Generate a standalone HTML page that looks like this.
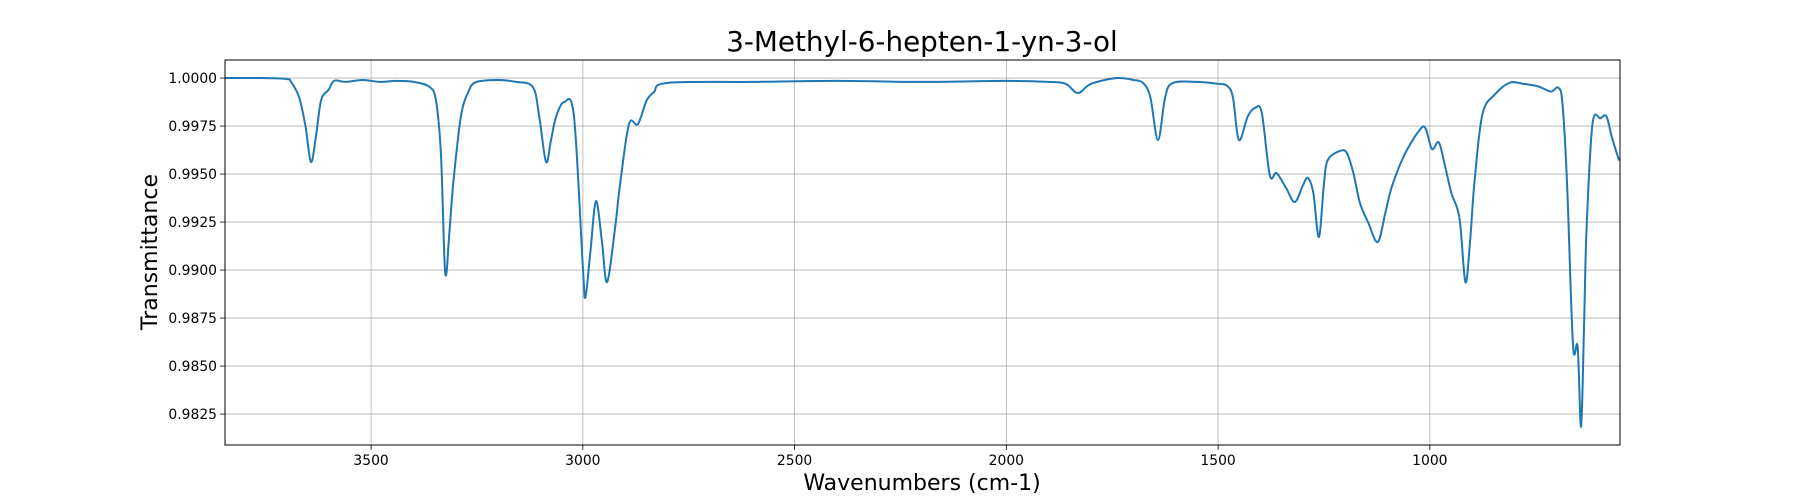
<!DOCTYPE html>
<html><head><meta charset="utf-8"><style>
body{margin:0;background:#fff;}
svg{display:block;font-family:"DejaVu Sans","Liberation Sans",sans-serif;}
</style></head><body>
<svg id="chart" width="1800" height="500" xmlns="http://www.w3.org/2000/svg">
<rect x="0" y="0" width="1800" height="500" fill="#fff"/>
<g id="grid"></g>
<g id="series"></g>
<rect x="225" y="60" width="1395" height="385" fill="none" stroke="#000" stroke-width="1"/>
<g id="xticks"></g>
<g id="yticks"></g>
<text x="922" y="51" font-size="27.8" text-anchor="middle">3-Methyl-6-hepten-1-yn-3-ol</text>
<text x="922" y="490" font-size="22" text-anchor="middle">Wavenumbers (cm-1)</text>
<text x="0" y="0" font-size="22" text-anchor="middle" transform="translate(157,252) rotate(-90)">Transmittance</text>
</svg>
<script>
const wavenumbers=[3846,3760,3700,3689,3670,3655,3642,3630,3618,3600,3587,3560,3520,3480,3440,3400,3363,3347,3335,3325,3315,3306,3288,3270,3252,3200,3158,3118,3103,3087,3075,3063,3044,3021,3000,2994,2982,2969,2955,2943,2925,2912,2891,2870,2850,2832,2800,2600,2400,2200,2000,1900,1860,1831,1800,1739,1700,1677,1660,1642,1625,1607,1550,1500,1479,1465,1451,1430,1413,1397,1378,1362,1340,1319,1300,1288,1275,1262,1250,1241,1213,1196,1180,1165,1146,1123,1105,1090,1060,1024,1010,995,979,965,949,930,916,905,895,876,846,811,780,746,714,697,687,676,662,651,643,636,630,616,597,583,570,553];
const transmittance=[1.0000,1.0000,0.99995,0.9998,0.9990,0.9975,0.99563,0.9970,0.99885,0.9994,0.99986,0.9998,0.9999,0.9998,0.99985,0.9998,0.99955,0.99885,0.9960,0.98984,0.9920,0.99453,0.9980,0.9993,0.99979,0.9999,0.9998,0.99953,0.9980,0.99563,0.9968,0.9980,0.99875,0.9980,0.99016,0.98859,0.9910,0.99359,0.9915,0.98937,0.9920,0.99448,0.9976,0.9976,0.9988,0.99927,0.99975,0.9998,0.99985,0.9998,0.99985,0.9998,0.9997,0.99922,0.9997,1.0000,0.9999,0.99974,0.9990,0.99677,0.9990,0.99974,0.9998,0.9997,0.9996,0.9990,0.99677,0.9980,0.99844,0.9982,0.99495,0.99505,0.9943,0.99354,0.9944,0.9948,0.9940,0.99172,0.9945,0.99573,0.9962,0.9961,0.9950,0.99349,0.9925,0.99146,0.9930,0.99432,0.9960,0.9973,0.99737,0.9963,0.99665,0.9955,0.9940,0.9927,0.98937,0.9915,0.9945,0.9981,0.99916,0.99976,0.9997,0.99958,0.9993,0.9995,0.9987,0.9945,0.9861,0.9860,0.98184,0.9870,0.9921,0.9976,0.9979,0.9980,0.9969,0.9957];
const xTicks=[3500,3000,2500,2000,1500,1000];
const yTicks=[0.9825,0.9850,0.9875,0.9900,0.9925,0.9950,0.9975,1.0000];
const L=225,R=1620,T=60,B=445;
const xMin=551,xMax=3845,yMin=0.98089,yMax=1.00094;
const xs=v=>L+(xMax-v)/(xMax-xMin)*(R-L);
const ys=v=>B-(v-yMin)/(yMax-yMin)*(B-T);
const NS="http://www.w3.org/2000/svg";
const grid=document.getElementById('grid'),xt=document.getElementById('xticks'),yt=document.getElementById('yticks');
function mk(tag,attrs,parent){const e=document.createElementNS(NS,tag);for(const k in attrs)e.setAttribute(k,attrs[k]);parent.appendChild(e);return e;}
xTicks.forEach(v=>{const x=xs(v);
 const g=mk('line',{x1:x,x2:x,y1:T,y2:B,stroke:'#b0b0b0','stroke-width':0.8},grid);
 
 
 const t=mk('line',{x1:x,x2:x,y1:B,y2:B+4.9,stroke:'#000','stroke-width':0.8},xt);
 
 
 const l=mk('text',{x:x,y:B+20,'font-size':13.9,'text-anchor':'middle'},xt);
 
 
 l.textContent=v;});
yTicks.forEach(v=>{const y=ys(v);
 const g=mk('line',{x1:L,x2:R,y1:y,y2:y,stroke:'#b0b0b0','stroke-width':0.8},grid);
 
 
 const t=mk('line',{x1:L-4.9,x2:L,y1:y,y2:y,stroke:'#000','stroke-width':0.8},yt);
 
 
 const l=mk('text',{x:L-8,y:y+5,'font-size':13.9,'text-anchor':'end'},yt);
 
 
 l.textContent=v.toFixed(4);});
const P=wavenumbers.map((w,i)=>[xs(w),ys(transmittance[i])]);
let d='M'+P[0][0].toFixed(2)+','+P[0][1].toFixed(2);
for(let i=0;i<P.length-1;i++){const p0=P[Math.max(0,i-1)],p1=P[i],p2=P[i+1],p3=P[Math.min(P.length-1,i+2)];
 const c1x=p1[0]+(p2[0]-p0[0])/6,c1y=p1[1]+(p2[1]-p0[1])/6,c2x=p2[0]-(p3[0]-p1[0])/6,c2y=p2[1]-(p3[1]-p1[1])/6;
 d+=' C'+c1x.toFixed(2)+','+c1y.toFixed(2)+' '+c2x.toFixed(2)+','+c2y.toFixed(2)+' '+p2[0].toFixed(2)+','+p2[1].toFixed(2);}
const clip=mk('clipPath',{id:'pc'},document.getElementById('chart'));
mk('rect',{x:L,y:T,width:R-L,height:B-T},clip);
const line=mk('path',{d:d,fill:'none',stroke:'#1f77b4','stroke-width':2,'clip-path':'url(#pc)','stroke-linejoin':'round'},document.getElementById('series'));


</script>
</body></html>
